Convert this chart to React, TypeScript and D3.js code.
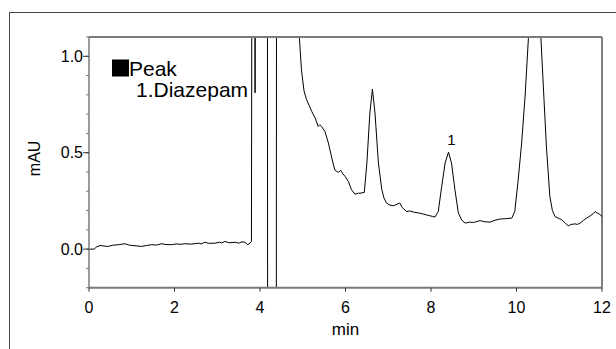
import React from "react";
import * as d3 from "d3";

const times = [
  0.0, 0.12, 0.18, 0.26, 0.35, 0.45, 0.55, 0.69, 0.78, 0.84, 0.92, 1.0, 1.1, 1.23, 1.35, 1.47, 1.58, 1.7, 1.8, 1.93,
  2.05, 2.15, 2.25, 2.4, 2.56, 2.63, 2.71, 2.8, 2.95, 3.05, 3.1, 3.18, 3.28, 3.42, 3.5, 3.58, 3.65, 3.71, 3.76, 3.8,
  3.82, 3.87, 3.885, 3.9, 4.17, 4.18, 4.38, 4.39, 4.86,
  4.92, 4.97, 5.03, 5.09, 5.15, 5.21, 5.29, 5.36, 5.4, 5.44, 5.52, 5.6, 5.68, 5.75, 5.83, 5.89, 5.94, 5.99, 6.07,
  6.14, 6.22, 6.3, 6.34, 6.44, 6.5, 6.57, 6.63, 6.69, 6.77, 6.85, 6.9, 6.96, 7.04, 7.12, 7.2, 7.27, 7.33, 7.43, 7.5,
  7.59, 7.7, 7.82, 7.95, 8.03, 8.09, 8.17, 8.25, 8.33, 8.41, 8.48, 8.56, 8.64, 8.72, 8.8, 8.9, 8.99, 9.1, 9.15, 9.25,
  9.38, 9.5, 9.61, 9.75, 9.89, 9.96, 10.04, 10.12, 10.2, 10.28, 10.43, 10.57, 10.64, 10.7, 10.78, 10.84, 10.9, 11.0,
  11.06, 11.14, 11.21, 11.28, 11.37, 11.42, 11.49, 11.56, 11.64, 11.72, 11.8, 11.84, 11.89, 11.95, 12.0,
];
const signal = [
  0.0, 0.0, 0.012, 0.019, 0.016, 0.014, 0.02, 0.023, 0.026, 0.028, 0.022, 0.019, 0.017, 0.014, 0.019, 0.023, 0.021,
  0.028, 0.024, 0.023, 0.027, 0.025, 0.028, 0.026, 0.031, 0.027, 0.036, 0.03, 0.031, 0.036, 0.032, 0.04, 0.033, 0.036,
  0.031, 0.038, 0.036, 0.023, 0.03, 0.04,
  3.0, 3.0, 0.81, 3.0, 3.0, -1.0, -1.0, 3.0, 3.0,
  1.1, 0.93, 0.82, 0.775, 0.745, 0.714, 0.68, 0.636, 0.645, 0.636, 0.61, 0.55, 0.472, 0.41, 0.398, 0.408, 0.39, 0.377,
  0.35, 0.308, 0.285, 0.29, 0.29, 0.294, 0.446, 0.706, 0.83, 0.706, 0.446, 0.308, 0.265, 0.239, 0.228, 0.225, 0.232,
  0.239, 0.215, 0.195, 0.198, 0.192, 0.188, 0.182, 0.174, 0.17, 0.166, 0.195, 0.325, 0.446, 0.503, 0.446, 0.308, 0.187,
  0.15, 0.135, 0.14, 0.138, 0.145, 0.148, 0.142, 0.14, 0.15, 0.156, 0.158, 0.161, 0.195, 0.36, 0.55, 0.79, 1.1, 1.9,
  1.1, 0.79, 0.53, 0.273, 0.2, 0.169, 0.158, 0.152, 0.135, 0.121, 0.128, 0.131, 0.128, 0.135, 0.148, 0.161, 0.172,
  0.185, 0.195, 0.187, 0.18, 0.169,
];

const xTicks = [0, 2, 4, 6, 8, 10, 12];
const yMajorTicks = [0.0, 0.5, 1.0];
const yMinorTicks = [-0.2, -0.1, 0.0, 0.1, 0.2, 0.3, 0.4, 0.5, 0.6, 0.7, 0.8, 0.9, 1.0, 1.1];
const peakLabels = [{ t: 8.41, v: 0.503, label: "1" }];
const legendTitle = "Peak";
const legendItems = ["1.Diazepam"];
const xTitle = "min";
const yTitle = "mAU";

const W = 616;
const H = 349;
const L = 89;
const R = 602;
const T = 37;
const B = 287.7;
const FONT = "'Liberation Sans', Arial, sans-serif";

export default function App() {
  const x = d3.scaleLinear().domain([0, 12]).range([L, R]);
  const y = d3.scaleLinear().domain([-0.2, 1.1]).range([B, T]);
  const pts: [number, number][] = times.map((t, i) => [t, signal[i]]);
  const line = d3
    .line<[number, number]>()
    .x((d) => x(d[0]))
    .y((d) => y(d[1]));
  const axisColor = "#7a7a7a";
  return (
    <svg
      width={W}
      height={H}
      viewBox={`0 0 ${W} ${H}`}
      style={{ position: "absolute", left: 0, top: 0, background: "#fff" }}
      fontFamily={FONT}
    >
      <rect x={0} y={0} width={W} height={H} fill="#fff" />
      {/* outer frame */}
      <path d={`M9.5,${H} V12.5 H${W}`} fill="none" stroke="#444" strokeWidth={1} />
      <defs>
        <clipPath id="plotclip">
          <rect x={L} y={T} width={R - L} height={B - T} />
        </clipPath>
      </defs>
      <path d={line(pts) || ""} fill="none" stroke="#000" strokeWidth={1} clipPath="url(#plotclip)" />
      {/* plot border */}
      <line x1={R} x2={R} y1={T} y2={B} stroke="#000" strokeWidth={1} />
      <line x1={L} x2={R} y1={T} y2={T} stroke={axisColor} strokeWidth={2} />
      <line x1={L} x2={L} y1={T} y2={B} stroke={axisColor} strokeWidth={1.5} />
      <line x1={L} x2={R + 0.5} y1={B} y2={B} stroke={axisColor} strokeWidth={2} />
      {/* y ticks */}
      {yMinorTicks.map((v) => (
        <line key={"m" + v} x1={L - 3} x2={L} y1={y(v)} y2={y(v)} stroke={axisColor} strokeWidth={1} />
      ))}
      {yMajorTicks.map((v) => (
        <g key={"M" + v}>
          <line x1={L - 6} x2={L} y1={y(v)} y2={y(v)} stroke="#333" strokeWidth={1} />
          <text x={L - 6} y={y(v)} dy="0.36em" textAnchor="end" fontSize={16} fill="#000">
            {d3.format(".1f")(v)}
          </text>
        </g>
      ))}
      {/* x ticks */}
      {xTicks.map((t) => (
        <g key={"x" + t}>
          <line x1={x(t)} x2={x(t)} y1={B} y2={B + 4} stroke="#333" strokeWidth={1} />
          <text x={x(t)} y={313} textAnchor="middle" fontSize={16} fill="#000">
            {t}
          </text>
        </g>
      ))}
      <text x={(L + R) / 2} y={335} textAnchor="middle" fontSize={17} fill="#000">
        {xTitle}
      </text>
      <text
        transform={`translate(39.5,${(T + B) / 2 - 4}) rotate(-90)`}
        textAnchor="middle"
        fontSize={16}
        fill="#000"
      >
        {yTitle}
      </text>
      {/* legend */}
      <rect x={112} y={59.5} width={17} height={17} fill="#000" />
      <text x={129} y={76} fontSize={21} fill="#000">
        {legendTitle}
      </text>
      {legendItems.map((s, i) => (
        <text key={s} x={136} y={97 + i * 21} fontSize={21} fill="#000">
          {s}
        </text>
      ))}
      {/* peak labels */}
      {peakLabels.map((p) => (
        <text key={p.label} x={x(p.t) + 3} y={y(p.v) - 7} textAnchor="middle" fontSize={15} fill="#000">
          {p.label}
        </text>
      ))}
    </svg>
  );
}
